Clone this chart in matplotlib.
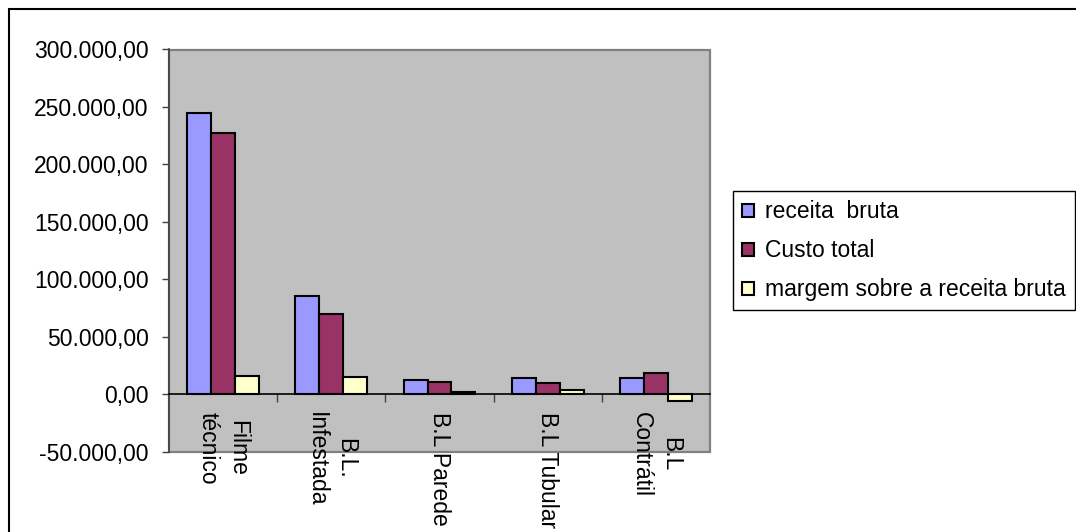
import numpy as np
import matplotlib
matplotlib.use("Agg")
from matplotlib import pyplot as plt
from matplotlib.ticker import FuncFormatter, FixedLocator

categories = ["Filme\ntécnico", "B.L.\nInfestada", "B.L Parede", "B.L Tubular", "B.L\nContrátil"]
series_names = ["receita  bruta", "Custo total", "margem sobre a receita bruta"]
receita_bruta = [245000, 85800, 12200, 14200, 14200]
custo_total = [227000, 69500, 10500, 10200, 18900]
margem = [16000, 14600, 1700, 3800, -5500]
y_ticks = [-50000, 0, 50000, 100000, 150000, 200000, 250000, 300000]

colors = ["#9999FF", "#993366", "#FFFFCC"]

plt.rcParams["font.family"] = ["Liberation Sans", "DejaVu Sans"]
FS = 16.5

W, H = 1076, 532
fig = plt.figure(figsize=(W / 100, H / 100), dpi=100)
ax = fig.add_axes([169 / W, 1 - 451.7 / H, (710 - 169) / W, (451.7 - 49.5) / H])
ax.set_facecolor("#C0C0C0")

x = np.arange(len(categories))
width = 0.221
bars = []
for i, (vals, name) in enumerate(zip([receita_bruta, custo_total, margem], series_names)):
    b = ax.bar(x + (i - 1) * width, vals, width, color=colors[i],
               edgecolor="black", linewidth=1.5, label=name, zorder=3)
    bars.append(b)

ax.set_xlim(-0.5, len(categories) - 0.5)
ax.set_ylim(y_ticks[0], y_ticks[-1])

# y axis
ax.set_yticks(y_ticks)
ax.yaxis.set_major_formatter(FuncFormatter(
    lambda v, p: f"{v:,.2f}".replace(",", "X").replace(".", ",").replace("X", ".")))
ax.tick_params(axis="y", direction="out", length=5, width=1, pad=9.5,
               labelsize=FS, color="#404040")

# x axis sits on zero, ticks between categories
ax.spines["bottom"].set_position(("data", 0))
ax.spines["bottom"].set_color("black")
ax.spines["bottom"].set_linewidth(1.2)
ax.spines["bottom"].set_zorder(4)
ax.set_xticks(x)
ax.set_xticklabels(categories, rotation=270, ha="center", va="top",
                   multialignment="center", linespacing=1.35)
ax.xaxis.set_minor_locator(FixedLocator(x[:-1] + 0.5))
ax.tick_params(axis="x", which="major", length=0, pad=12.5, labelsize=FS)
ax.tick_params(axis="x", which="minor", direction="out", length=6, width=1,
               color="#404040")

for s in ["top", "right"]:
    ax.spines[s].set_visible(False)
ax.spines["left"].set_color("#404040")
ax.spines["left"].set_linewidth(1.2)
ax.add_patch(plt.Rectangle((0, 0), 1, 1, transform=ax.transAxes, fill=False,
                           edgecolor="#808080", linewidth=1.6, zorder=1,
                           clip_on=False))

leg = fig.legend(handles=bars, loc="upper left",
                 bbox_to_anchor=(733 / W, 1 - 191 / H), borderaxespad=0,
                 fontsize=FS, frameon=True, fancybox=False, framealpha=1,
                 edgecolor="black", borderpad=0.4, labelspacing=0.7,
                 handlelength=0.5, handleheight=0.5, handletextpad=0.5)
leg.get_frame().set_linewidth(1.0)

# outer chart border (left and top visible)
fig.add_artist(plt.Rectangle((8.5 / W, -0.05), 1.1, 1 - 8.5 / H + 0.05,
                             transform=fig.transFigure, fill=False,
                             edgecolor="black", linewidth=1.5))

fig.savefig("out.png", dpi=100)
